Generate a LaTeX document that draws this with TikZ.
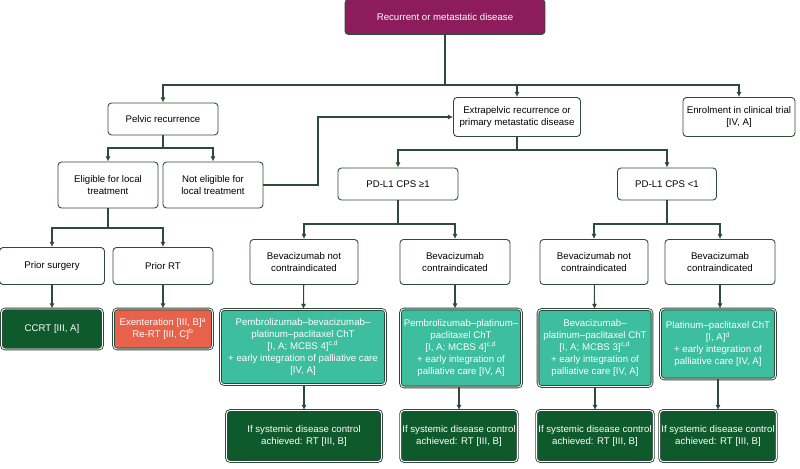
\documentclass[tikz,border=0pt]{standalone}
\usepackage{fontspec}
\setmainfont{Liberation Sans}
\usetikzlibrary{arrows.meta}
\definecolor{plum}{HTML}{8C1C5C}
\definecolor{edge}{HTML}{2E4A3A}
\definecolor{deepgreen}{HTML}{0E5A2C}
\definecolor{mint}{HTML}{3DBE9E}
\definecolor{coral}{HTML}{E8614A}
\tikzset{
  box/.style={draw=edge, line width=0.5pt, rounded corners=2pt, fill=white, align=center,
    font=\fontsize{5.5}{6.7}\selectfont, inner sep=1pt},
  deep/.style={box, fill=deepgreen, text=white, double=white, double distance=0.5pt},
  mintbox/.style={box, fill=mint, text=white, double=white, double distance=0.5pt},
  coralbox/.style={box, fill=coral, text=white, double=white, double distance=0.5pt},
  link/.style={draw=edge, line width=0.6pt, -{Latex[length=3pt,width=3pt]}},
}
\begin{document}
\begin{tikzpicture}[x=0.02cm,y=-0.02cm]
\useasboundingbox (0,0) rectangle (800,469);
% first level
\node[box, fill=plum, text=white, minimum width=4cm, minimum height=0.7cm] (top) at (445,17) {Recurrent or metastatic disease};
\node[box, minimum width=2.2cm, minimum height=0.64cm] (pelvic) at (163,119) {Pelvic recurrence};
\node[box, minimum width=2.54cm, minimum height=0.78cm] (extra) at (517,117) {Extrapelvic recurrence or\\primary metastatic disease};
\node[box, minimum width=2.24cm, minimum height=0.78cm] (trial) at (739,117) {Enrolment in clinical trial\\{}[IV, A]};
% second level
\node[box, minimum width=2cm, minimum height=0.92cm] (elig) at (108,185) {Eligible for local\\treatment};
\node[box, minimum width=2cm, minimum height=0.92cm] (noelig) at (213,185) {Not eligible for\\local treatment};
\node[box, minimum width=2.4cm, minimum height=0.64cm] (cpshi) at (398,184) {PD-L1 CPS ≥1};
\node[box, minimum width=1.98cm, minimum height=0.64cm] (cpslo) at (667,184) {PD-L1 CPS <1};
% third level
\node[box, minimum width=2.1cm, minimum height=0.74cm] (surg) at (52,266) {Prior surgery};
\node[box, minimum width=2cm, minimum height=0.74cm] (prt) at (163,266) {Prior RT};
\node[box, minimum width=2.16cm, minimum height=0.9cm] (bev1) at (304,262) {Bevacizumab not\\contraindicated};
\node[box, minimum width=2.2cm, minimum height=0.9cm] (bev2) at (455,262) {Bevacizumab\\contraindicated};
\node[box, minimum width=2.16cm, minimum height=0.9cm] (bev3) at (594,262) {Bevacizumab not\\contraindicated};
\node[box, minimum width=2.2cm, minimum height=0.9cm] (bev4) at (720,262) {Bevacizumab\\contraindicated};
% treatments
\node[deep, minimum width=2.02cm, minimum height=0.8cm] (ccrt) at (52,329) {CCRT [III, A]};
\node[coralbox, minimum width=1.98cm, minimum height=0.8cm] (exen) at (163,329) {Exenteration [III, B]\textsuperscript{a}\\Re-RT [III, C]\textsuperscript{b}};
\node[mintbox, minimum width=3.3cm, minimum height=1.5cm] (tx1) at (303,347) {Pembrolizumab--bevacizumab--\\platinum--paclitaxel ChT\\{}[I, A; MCBS 4]\textsuperscript{c,d}\\+ early integration of palliative care\\{}[IV, A]};
\node[mintbox, minimum width=2.42cm, minimum height=1.56cm] (tx2) at (461,348) {Pembrolizumab--platinum--\\paclitaxel ChT\\{}[I, A; MCBS 4]\textsuperscript{c,d}\\+ early integration of\\palliative care [IV, A]};
\node[mintbox, minimum width=2.28cm, minimum height=1.54cm] (tx3) at (595,348) {Bevacizumab--\\platinum--paclitaxel ChT\\{}[I, A; MCBS 3]\textsuperscript{c,d}\\+ early integration of\\palliative care [IV, A]};
\node[mintbox, minimum width=2.3cm, minimum height=1.4cm] (tx4) at (718,344) {Platinum--paclitaxel ChT\\{}[I, A]\textsuperscript{d}\\+ early integration of\\palliative care [IV, A]};
% radiotherapy
\foreach \n/\x/\w in {1/304/3.1, 2/459/2.3, 3/595/2.3, 4/718/2.3}
  \node[deep, minimum width=\w cm, minimum height=1.02cm] (rt\n) at (\x,436) {If systemic disease control\\achieved: RT [III, B]};
% connectors
\draw[link] (top.south) |- (445,85) -| (pelvic.north);
\draw[link] (445,85) -| (extra.north);
\draw[link] (445,85) -| (trial.north);
\draw[link] (pelvic.south) |- (163,148) -| (elig.north);
\draw[link] (163,148) -| (noelig.north);
\draw[link] (noelig.east) -| (318,117) -- (extra.west);
\draw[link] (extra.south) |- (517,150) -| (cpshi.north);
\draw[link] (517,150) -| (cpslo.north);
\draw[link] (elig.south) |- (108,228) -| (surg.north);
\draw[link] (108,228) -| (prt.north);
\draw[link] (cpshi.south) |- (398,224) -| (bev1.north);
\draw[link] (398,224) -| (bev2.north);
\draw[link] (cpslo.south) |- (667,224) -| (bev3.north);
\draw[link] (667,224) -| (bev4.north);
\draw[link] (surg) -- (ccrt);
\draw[link] (prt) -- (exen);
\draw[link] (bev1) -- (tx1);
\draw[link] (bev2.south) -- (tx2.north -| bev2.south);
\draw[link] (bev3) -- (tx3);
\draw[link] (bev4.south) -- (tx4.north -| bev4.south);
\draw[link] (tx1.south -| rt1.north) -- (rt1);
\draw[link] (tx2.south -| rt2.north) -- (rt2);
\draw[link] (tx3.south -| rt3.north) -- (rt3);
\draw[link] (tx4.south -| rt4.north) -- (rt4);
\end{tikzpicture}
\end{document}
